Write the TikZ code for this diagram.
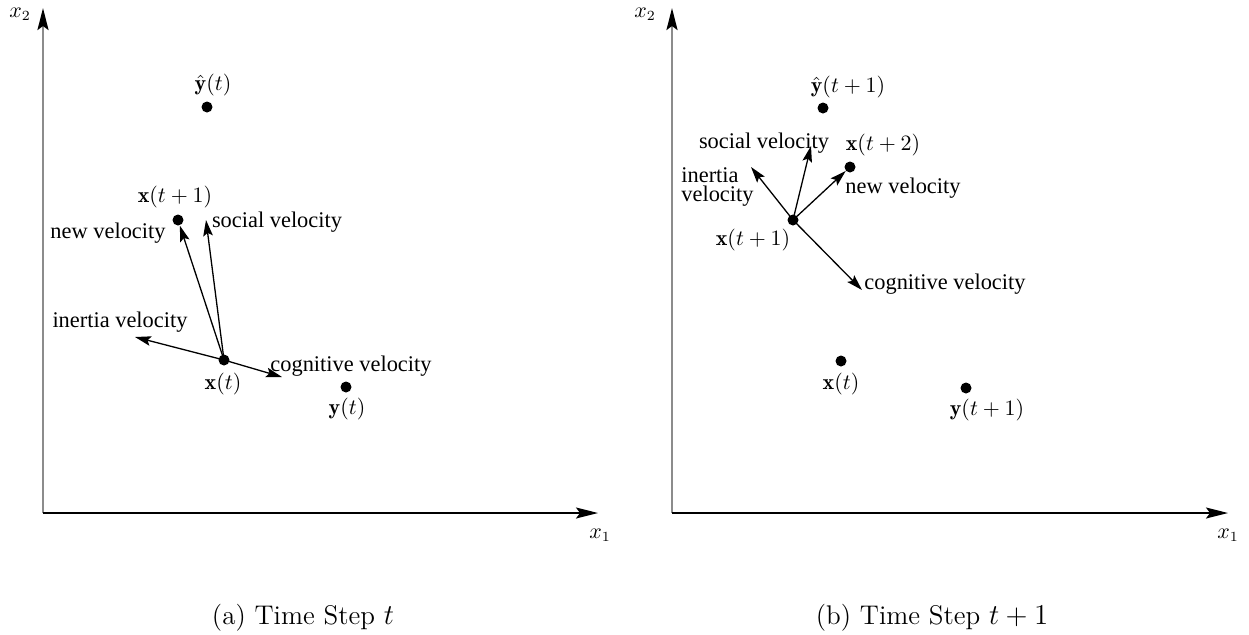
\documentclass[tikz,border=0pt]{standalone}
\usepackage{fontspec}
\usepackage{amsmath}
\newfontfamily\tms{Liberation Serif}
\usetikzlibrary{arrows.meta}
\begin{document}
\begin{tikzpicture}[x=0.5pt,y=-0.5pt,
  dot/.style={circle,fill,inner sep=0pt,minimum size=5.5pt},
  vec/.style={-{Stealth[length=8pt,width=4.8pt,inset=1.5pt]},line width=0.65pt},
  axisv/.style={-{Stealth[length=11pt,width=5.5pt,inset=2pt,color=black]},line width=1.3pt,draw=black!45},
  axish/.style={-{Stealth[length=11pt,width=5.5pt,inset=2pt]},line width=0.8pt},
  lbl/.style={font=\tms\fontsize{11.2}{12}\selectfont,inner sep=0pt},
  mth/.style={font=\fontsize{11}{12}\selectfont,inner sep=0pt},
  axl/.style={font=\fontsize{10.5}{12}\selectfont,inner sep=0pt},
  captxt/.style={font=\fontsize{13.5}{15}\selectfont,inner sep=0pt}]
\useasboundingbox (0,0) rectangle (1249,634);
% ---------- left panel ----------
\coordinate (O1) at (43,513);
\coordinate (Y1) at (43,8);
\coordinate (X1) at (598,513);
\draw[axisv] (O1) -- (Y1);
\draw[axish] (O1) -- (X1);
\node[axl] (lx2a) at (20,14) {$x_2$};
\node[axl] (lx1a) at (600,535) {$x_1$};
\node[dot] (yh1) at (207,107) {};
\node[mth] (lyh1) at (213,85) {$\hat{\mathbf{y}}(t)$};
\node[dot] (xn1) at (178,220) {};
\node[mth] (lxn1) at (175,197) {$\mathbf{x}(t+1)$};
\node[dot] (x1) at (224,360) {};
\node[mth] (lx1) at (223,384) {$\mathbf{x}(t)$};
\node[dot] (y1) at (346,387) {};
\node[mth] (ly1) at (347,409) {$\mathbf{y}(t)$};
\coordinate (soc1) at (206,220);
\coordinate (ine1) at (135,337);
\coordinate (cog1) at (282,377);
\draw[vec] (x1.center) -- (xn1);
\draw[vec] (x1.center) -- (soc1);
\draw[vec] (x1.center) -- (ine1);
\draw[vec] (x1.center) -- (cog1);
\node[lbl] (lnew1) at (108,233) {new velocity};
\node[lbl] (lsoc1) at (277,222) {social velocity};
\node[lbl] (line1) at (120,322) {inertia velocity};
\node[lbl] (lcog1) at (351,366) {cognitive velocity};
\node[captxt] (capa) at (303,618) {(a) Time Step $t$};
% ---------- right panel ----------
\coordinate (O2) at (672,513);
\coordinate (Y2) at (672,8);
\coordinate (X2) at (1228,513);
\draw[axisv] (O2) -- (Y2);
\draw[axish] (O2) -- (X2);
\node[axl] (lx2b) at (645,14) {$x_2$};
\node[axl] (lx1b) at (1228,535) {$x_1$};
\node[dot] (yh2) at (823,108) {};
\node[mth] (lyh2) at (848,87) {$\hat{\mathbf{y}}(t+1)$};
\node[dot] (xn2) at (793,220) {};
\node[mth] (lxn2) at (753,240) {$\mathbf{x}(t+1)$};
\node[dot] (xnn2) at (850,167) {};
\node[mth] (lxnn2) at (883,145) {$\mathbf{x}(t+2)$};
\node[dot] (x2) at (841,361) {};
\node[mth] (lx2) at (841,384) {$\mathbf{x}(t)$};
\node[dot] (y2) at (966,388) {};
\node[mth] (ly2) at (987,410) {$\mathbf{y}(t+1)$};
\coordinate (soc2) at (811,146);
\coordinate (ine2) at (751,167);
\coordinate (cog2) at (862,290);
\draw[vec] (xn2.center) -- (xnn2);
\draw[vec] (xn2.center) -- (soc2);
\draw[vec] (xn2.center) -- (ine2);
\draw[vec] (xn2.center) -- (cog2);
\node[lbl] (lnew2) at (903,188) {new velocity};
\node[lbl] (lsoc2) at (764,143) {social velocity};
\node[lbl,anchor=west,align=left] (line2) at (681,187) {inertia\\[-2.5pt]velocity};
\node[lbl] (lcog2) at (945,284) {cognitive velocity};
\node[captxt] (capb) at (932,618) {(b) Time Step $t+1$};
\end{tikzpicture}
\end{document}
